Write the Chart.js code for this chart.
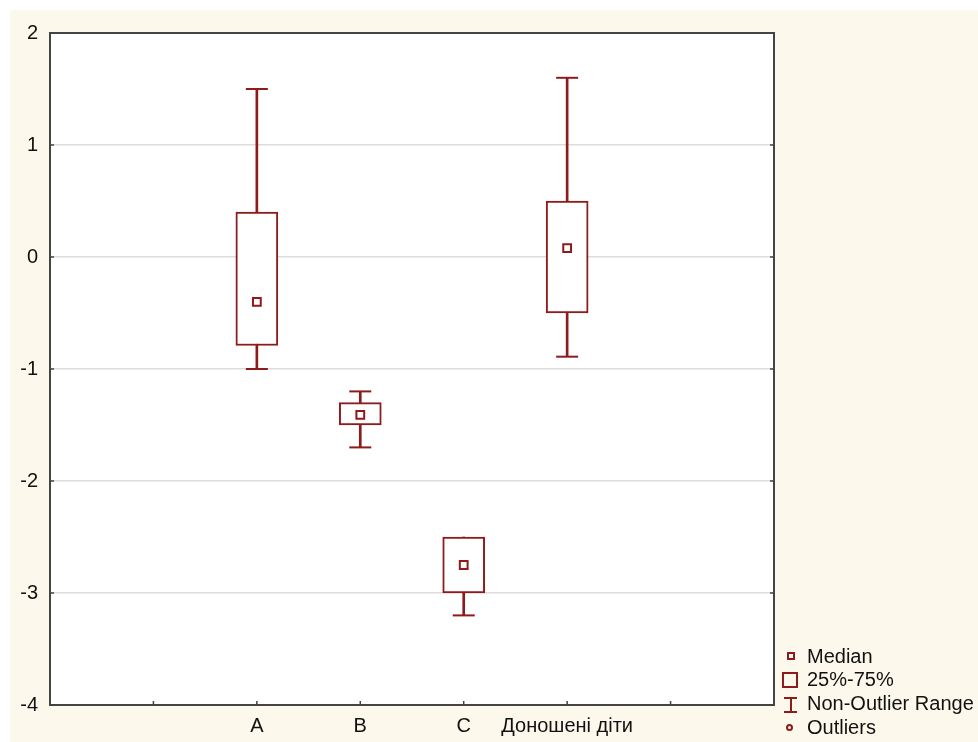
<!DOCTYPE html>
<html>
<head>
<meta charset="utf-8">
<script src="https://cdn.jsdelivr.net/npm/chart.js@4.4.1/dist/chart.umd.min.js"></script>
<style>
  body { margin: 0; background: #fff; }
  #wrap { position: relative; width: 978px; height: 742px; overflow: hidden; }
  #bg { position: absolute; left: 10px; top: 10px; right: 0; bottom: 0; background: #fdf8ec; }
  #chart { position: absolute; left: 0; top: 0; }
  .lg { position: absolute; font: 20px "Liberation Sans", Arial, sans-serif; color: #111; line-height: 23px; white-space: nowrap; }
  .sym { position: absolute; box-sizing: border-box; }
</style>
</head>
<body>
<div id="wrap">
  <div id="bg"></div>
  <canvas id="chart" width="978" height="742"></canvas>
  <div id="legend"></div>
</div>
<script>
const categories = ["A", "B", "C", "Доношені діти"];
const catPos = [2, 3, 4, 5];
const mins = [-1.0, -1.7, -3.2, -0.89];
const q1s = [-0.79, -1.5, -3.0, -0.5];
const medians = [-0.4, -1.41, -2.75, 0.08];
const q3s = [0.4, -1.3, -2.5, 0.5];
const maxs = [1.5, -1.2, -2.5, 1.6];
const legendLabels = ["Median", "25%-75%", "Non-Outlier Range", "Outliers"];

const RED = "#8e1b1b";
const FONT = "'Liberation Sans', Arial, sans-serif";

// frame, white plot background and inward tick marks
const framePlugin = {
    id: "frame",
    beforeDraw(chart) {
        const a = chart.chartArea;
        const ctx = chart.ctx;
        ctx.save();
        ctx.fillStyle = "#fff";
        ctx.fillRect(a.left, a.top, a.right - a.left, a.bottom - a.top);
        ctx.restore();
    },
    afterDraw(chart) {
        const a = chart.chartArea;
        const ctx = chart.ctx;
        const x = chart.scales.x, y = chart.scales.y;
        ctx.save();
        ctx.strokeStyle = "#444";
        ctx.lineWidth = 2;
        ctx.strokeRect(a.left, a.top, a.right - a.left, a.bottom - a.top);
        ctx.lineWidth = 1.5;
        ctx.beginPath();
        y.ticks.forEach(t => {
            const py = y.getPixelForValue(t.value);
            ctx.moveTo(a.left, py); ctx.lineTo(a.left + 4, py);
            ctx.moveTo(a.right, py); ctx.lineTo(a.right - 4, py);
        });
        for (let v = 1; v < 7; v++) {
            const px = x.getPixelForValue(v);
            ctx.moveTo(px, a.bottom); ctx.lineTo(px, a.bottom - 4);
        }
        ctx.stroke();
        ctx.restore();
    }
};

// whisker caps (skip where the whisker has no length)
const capPoints = [];
catPos.forEach((p, i) => {
    if (mins[i] < q1s[i]) capPoints.push({ x: p, y: mins[i] });
    if (maxs[i] > q3s[i]) capPoints.push({ x: p, y: maxs[i] });
});

const ctx = document.getElementById("chart").getContext("2d");
new Chart(ctx, {
    type: "bar",
    data: {
        datasets: [
            {
                type: "line",
                showLine: false,
                data: catPos.map((p, i) => ({ x: p, y: medians[i] })),
                pointStyle: "rect",
                pointRadius: 5.5,
                pointBackgroundColor: "#fff",
                pointBorderColor: RED,
                pointBorderWidth: 2,
                order: 0
            },
            {
                type: "line",
                showLine: false,
                data: capPoints,
                pointStyle: "line",
                pointRadius: 11,
                pointBorderColor: RED,
                pointBorderWidth: 2,
                order: 1
            },
            {
                data: catPos.map((p, i) => ({ x: p, y: [q1s[i], q3s[i]] })),
                backgroundColor: "#fff",
                borderColor: RED,
                borderWidth: 2,
                borderSkipped: false,
                barThickness: 42,
                grouped: false,
                order: 2
            },
            {
                data: catPos.map((p, i) => ({ x: p, y: [mins[i], maxs[i]] })),
                backgroundColor: RED,
                borderWidth: 0,
                barThickness: 2,
                grouped: false,
                order: 3
            }
        ]
    },
    options: {
        responsive: false,
        animation: false,
        events: [],
        layout: { padding: { left: 0, right: 204, top: 33, bottom: 0 } },
        plugins: { legend: { display: false }, tooltip: { enabled: false } },
        scales: {
            x: {
                type: "linear",
                offset: false,
                min: 0,
                max: 7,
                grid: { display: false, drawTicks: false, offset: false },
                border: { display: false },
                afterFit: s => { s.height = 37; },
                ticks: {
                    stepSize: 1,
                    autoSkip: false,
                    maxRotation: 0,
                    padding: 9,
                    color: "#111",
                    font: { family: FONT, size: 20 },
                    callback: v => {
                        const i = catPos.indexOf(v);
                        return i >= 0 ? categories[i] : "";
                    }
                }
            },
            y: {
                min: -4,
                max: 2,
                grid: { color: "#dcdcdc", lineWidth: 1.5, drawTicks: false },
                border: { display: false },
                afterFit: s => { s.width = 50; },
                ticks: {
                    stepSize: 1,
                    padding: 12,
                    color: "#111",
                    font: { family: FONT, size: 20 }
                }
            }
        }
    },
    plugins: [framePlugin]
});

// legend
const legend = document.getElementById("legend");
const rowY = [656, 679, 703, 727];
const symbols = [
    [{ left: 787, top: 652, width: 8, height: 8, border: "2px solid " + RED }],
    [{ left: 782, top: 672, width: 16, height: 16, border: "2px solid " + RED }],
    [
        { left: 790, top: 697, width: 2, height: 16, background: RED },
        { left: 784, top: 697, width: 13, height: 2, background: RED },
        { left: 784, top: 711, width: 13, height: 2, background: RED }
    ],
    [{ left: 785.5, top: 723.5, width: 7, height: 7, border: "2px solid " + RED, borderRadius: "50%" }]
];
legendLabels.forEach((lab, i) => {
    symbols[i].forEach(s => {
        const d = document.createElement("div");
        d.className = "sym";
        d.style.left = s.left + "px";
        d.style.top = s.top + "px";
        d.style.width = s.width + "px";
        d.style.height = s.height + "px";
        if (s.border) d.style.border = s.border;
        if (s.background) d.style.background = s.background;
        if (s.borderRadius) d.style.borderRadius = s.borderRadius;
        legend.appendChild(d);
    });
    const t = document.createElement("div");
    t.className = "lg";
    t.style.left = "807px";
    t.style.top = (rowY[i] - 11.5) + "px";
    t.textContent = lab;
    legend.appendChild(t);
});
</script>
</body>
</html>
